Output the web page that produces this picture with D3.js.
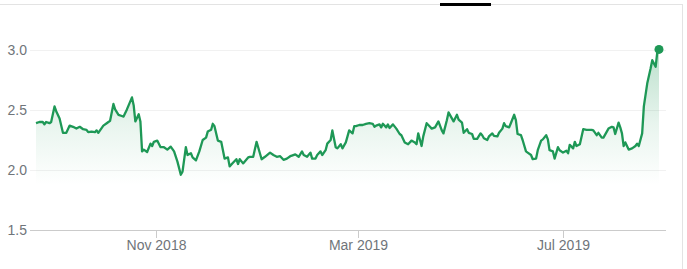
<!DOCTYPE html>
<html lang="en">
<head>
    <meta charset="UTF-8">
    <title>Price chart</title>
    <script src="https://d3js.org/d3.v7.min.js"></script>
    <style>
        body { margin: 0; background: #fff; }
        svg { display: block; }
        .tick-label { font-family: Arial, "Liberation Sans", sans-serif; font-size: 14px; fill: #70757a; }
    </style>
</head>
<body>

<svg></svg>

<script>
    // closing prices
    const dates = [
        "2018-08-22","2018-08-24","2018-08-26","2018-08-27","2018-08-28","2018-08-30","2018-08-31",
        "2018-09-02","2018-09-03","2018-09-05","2018-09-07","2018-09-09","2018-09-11","2018-09-13","2018-09-15",
        "2018-09-17","2018-09-19","2018-09-21","2018-09-22","2018-09-24","2018-09-26","2018-09-27","2018-09-28",
        "2018-10-01","2018-10-03","2018-10-05","2018-10-07","2018-10-08","2018-10-10","2018-10-12","2018-10-13",
        "2018-10-15","2018-10-18","2018-10-19","2018-10-20","2018-10-22","2018-10-23","2018-10-24","2018-10-25",
        "2018-10-27","2018-10-29","2018-10-30","2018-10-31",
        "2018-11-02","2018-11-04","2018-11-06","2018-11-08","2018-11-10","2018-11-12","2018-11-14","2018-11-16",
        "2018-11-17","2018-11-19","2018-11-20","2018-11-22","2018-11-23","2018-11-25","2018-11-27","2018-11-29",
        "2018-12-01","2018-12-02","2018-12-04","2018-12-05","2018-12-06","2018-12-08","2018-12-10","2018-12-12",
        "2018-12-14","2018-12-15","2018-12-17","2018-12-19","2018-12-20","2018-12-21","2018-12-23","2018-12-26",
        "2018-12-27","2018-12-29","2018-12-31",
        "2019-01-03","2019-01-05","2019-01-08","2019-01-10","2019-01-12","2019-01-14","2019-01-16","2019-01-18",
        "2019-01-20","2019-01-21","2019-01-23","2019-01-25","2019-01-27","2019-01-28","2019-01-30",
        "2019-02-01","2019-02-02","2019-02-04","2019-02-05","2019-02-07","2019-02-08","2019-02-10","2019-02-11",
        "2019-02-13","2019-02-14","2019-02-16","2019-02-17","2019-02-19","2019-02-20","2019-02-22","2019-02-23",
        "2019-02-24","2019-02-26","2019-02-27","2019-02-28",
        "2019-03-02","2019-03-04","2019-03-06","2019-03-08","2019-03-10","2019-03-11","2019-03-12","2019-03-14",
        "2019-03-15","2019-03-16","2019-03-18","2019-03-19","2019-03-20","2019-03-22","2019-03-24","2019-03-26",
        "2019-03-27","2019-03-29","2019-03-31",
        "2019-04-02","2019-04-04","2019-04-05","2019-04-06","2019-04-08","2019-04-09","2019-04-11","2019-04-13",
        "2019-04-14","2019-04-16","2019-04-18","2019-04-20","2019-04-21","2019-04-23","2019-04-24","2019-04-26",
        "2019-04-27","2019-04-29","2019-04-30",
        "2019-05-02","2019-05-03","2019-05-05","2019-05-06","2019-05-08","2019-05-09","2019-05-11","2019-05-13",
        "2019-05-14","2019-05-15","2019-05-17","2019-05-18","2019-05-20","2019-05-21","2019-05-23","2019-05-24",
        "2019-05-26","2019-05-27","2019-05-28","2019-05-30","2019-05-31",
        "2019-06-02","2019-06-03","2019-06-04","2019-06-06","2019-06-07","2019-06-09","2019-06-10","2019-06-12",
        "2019-06-13","2019-06-15","2019-06-16","2019-06-18","2019-06-19","2019-06-21","2019-06-22","2019-06-23",
        "2019-06-25","2019-06-26","2019-06-28","2019-06-29",
        "2019-07-01","2019-07-03","2019-07-04","2019-07-05","2019-07-07","2019-07-08","2019-07-09","2019-07-11",
        "2019-07-13","2019-07-15","2019-07-18","2019-07-19","2019-07-21","2019-07-22","2019-07-24","2019-07-25",
        "2019-07-27","2019-07-28","2019-07-30","2019-07-31",
        "2019-08-01","2019-08-03","2019-08-04","2019-08-05","2019-08-06","2019-08-07","2019-08-09","2019-08-11",
        "2019-08-13","2019-08-14","2019-08-15","2019-08-17","2019-08-18","2019-08-20","2019-08-22","2019-08-23",
        "2019-08-25","2019-08-26","2019-08-27"
    ];

    const prices = [
        2.39, 2.40, 2.40, 2.38, 2.40, 2.39, 2.40,
        2.53, 2.49, 2.43, 2.31, 2.31, 2.37, 2.36, 2.345,
        2.36, 2.34, 2.335, 2.315, 2.32, 2.315, 2.33, 2.31,
        2.37, 2.39, 2.41, 2.55, 2.505, 2.46, 2.45, 2.445,
        2.505, 2.605, 2.54, 2.405, 2.465, 2.405, 2.155, 2.17,
        2.15, 2.22, 2.20, 2.235,
        2.245, 2.19, 2.19, 2.17, 2.195, 2.155, 2.07, 1.96,
        1.985, 2.19, 2.125, 2.14, 2.105, 2.08, 2.155, 2.25,
        2.27, 2.32, 2.335, 2.385, 2.365, 2.245, 2.235, 2.095,
        2.105, 2.03, 2.06, 2.09, 2.05, 2.09, 2.055, 2.105,
        2.11, 2.11, 2.235,
        2.09, 2.11, 2.145, 2.125, 2.11, 2.115, 2.085, 2.095,
        2.115, 2.12, 2.13, 2.11, 2.155, 2.125, 2.11,
        2.145, 2.095, 2.095, 2.125, 2.155, 2.125, 2.165, 2.22,
        2.25, 2.33, 2.19, 2.18, 2.215, 2.18, 2.23, 2.28,
        2.33, 2.305, 2.365, 2.365,
        2.375, 2.375, 2.385, 2.39, 2.385, 2.36, 2.37, 2.38,
        2.355, 2.385, 2.355, 2.38, 2.35, 2.38, 2.345, 2.30,
        2.29, 2.23, 2.215,
        2.245, 2.23, 2.215, 2.305, 2.20, 2.28, 2.39, 2.36,
        2.345, 2.355, 2.405, 2.33, 2.305, 2.415, 2.48, 2.43,
        2.405, 2.46, 2.42,
        2.395, 2.31, 2.34, 2.31, 2.30, 2.26, 2.26, 2.305,
        2.29, 2.265, 2.25, 2.28, 2.305, 2.285, 2.28, 2.31,
        2.345, 2.39, 2.365, 2.355, 2.39,
        2.46, 2.415, 2.30, 2.29, 2.25, 2.155, 2.145, 2.125,
        2.09, 2.095, 2.165, 2.245, 2.255, 2.29, 2.255, 2.165,
        2.155, 2.095, 2.19, 2.165,
        2.145, 2.16, 2.14, 2.21, 2.18, 2.235, 2.20, 2.215,
        2.34, 2.335, 2.335, 2.33, 2.29, 2.31, 2.27, 2.27,
        2.32, 2.345, 2.36, 2.355,
        2.30, 2.395, 2.355, 2.305, 2.20, 2.23, 2.17, 2.18,
        2.20, 2.22, 2.20, 2.305, 2.53, 2.72, 2.845, 2.915,
        2.86, 2.985, 3.005
    ];

    const yTicks = [1.5, 2.0, 2.5, 3.0];
    const xTicks = ["2018-11-01", "2019-03-01", "2019-07-01"];

    const width = 687, height = 269;
    const lineColor = "#1e9856";
    const parse = d3.timeParse("%Y-%m-%d");

    const data = dates.map((d, i) => ({ date: parse(d), value: prices[i] }));

    const svg = d3.select("svg")
        .attr("width", width)
        .attr("height", height);

    const x = d3.scaleTime()
        .domain(d3.extent(data, d => d.date))
        .range([36, 659]);

    const y = d3.scaleLinear()
        .domain([1.5, 3.0])
        .range([230, 50]);

    // frame bits from the surrounding page
    svg.append("line")
        .attr("x1", 0).attr("x2", 682)
        .attr("y1", 4.5).attr("y2", 4.5)
        .attr("stroke", "#e3e3e3");
    svg.append("line")
        .attr("x1", 682.5).attr("x2", 682.5)
        .attr("y1", 4).attr("y2", height)
        .attr("stroke", "#e3e3e3");
    svg.append("rect")
        .attr("x", 440).attr("y", 3)
        .attr("width", 51).attr("height", 3)
        .attr("fill", "#000");

    // gradient under the line
    const grad = svg.append("defs").append("linearGradient")
        .attr("id", "fade")
        .attr("gradientUnits", "userSpaceOnUse")
        .attr("x1", 0).attr("x2", 0)
        .attr("y1", y(3.0)).attr("y2", 185);
    grad.append("stop").attr("offset", "0%").attr("stop-color", lineColor).attr("stop-opacity", 0.3);
    grad.append("stop").attr("offset", "55%").attr("stop-color", lineColor).attr("stop-opacity", 0.1);
    grad.append("stop").attr("offset", "100%").attr("stop-color", lineColor).attr("stop-opacity", 0);

    // grid
    svg.append("g")
        .selectAll("line")
        .data(yTicks.filter(t => t > 1.5))
        .enter().append("line")
        .attr("x1", 30).attr("x2", 666)
        .attr("y1", d => Math.round(y(d)) + 0.5)
        .attr("y2", d => Math.round(y(d)) + 0.5)
        .attr("stroke", "#f1f1f1");

    svg.append("g")
        .selectAll("text")
        .data(yTicks)
        .enter().append("text")
        .attr("class", "tick-label")
        .attr("x", 27)
        .attr("y", d => y(d) + 5)
        .attr("text-anchor", "end")
        .text(d => d.toFixed(1));

    svg.append("path")
        .datum(data)
        .attr("fill", "url(#fade)")
        .attr("d", d3.area()
            .x(d => x(d.date))
            .y0(185)
            .y1(d => y(d.value)));

    // x axis
    svg.append("line")
        .attr("x1", 30).attr("x2", 666)
        .attr("y1", 230.5).attr("y2", 230.5)
        .attr("stroke", "#cbcbcb");

    const xt = svg.append("g")
        .selectAll("g")
        .data(xTicks.map(parse))
        .enter().append("g")
        .attr("transform", d => `translate(${Math.round(x(d)) + 0.5},0)`);

    xt.append("line")
        .attr("y1", 230).attr("y2", 238)
        .attr("stroke", "#cbcbcb");

    xt.append("text")
        .attr("class", "tick-label")
        .attr("y", 250)
        .attr("text-anchor", "middle")
        .text(d3.timeFormat("%b %Y"));

    svg.append("path")
        .datum(data)
        .attr("fill", "none")
        .attr("stroke", lineColor)
        .attr("stroke-width", 2.3)
        .attr("stroke-linejoin", "round")
        .attr("d", d3.line()
            .x(d => x(d.date))
            .y(d => y(d.value)));

    const last = data[data.length - 1];
    svg.append("circle")
        .attr("cx", x(last.date))
        .attr("cy", y(last.value))
        .attr("r", 4.5)
        .attr("fill", lineColor);
</script>

</body>
</html>
